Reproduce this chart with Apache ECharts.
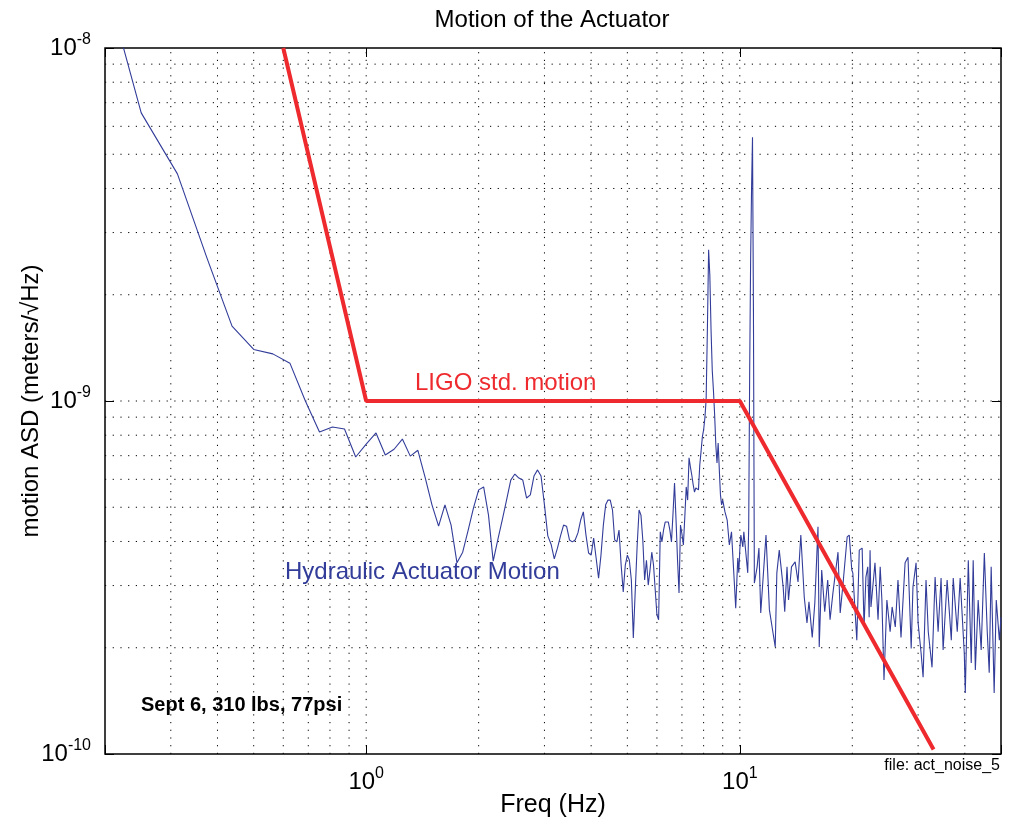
<!DOCTYPE html>
<html>
<head>
<meta charset="utf-8">
<script src="https://cdn.jsdelivr.net/npm/echarts@6/dist/echarts.min.js"></script>
<style>
  html, body { margin: 0; padding: 0; background: #fff; }
  #chart { width: 1015px; height: 826px; }
</style>
</head>
<body>
<div id="chart"></div>
<script>
// frequency in Hz, ASD in units of 1e-10 m/sqrt(Hz)
var motionPts = [
  [0.1875, 200], [0.25, 65.5], [0.3125, 44.0], [0.375, 25.4], [0.4375, 16.3], [0.5, 14.0],
  [0.5625, 13.6], [0.625, 12.8], [0.6875, 10.0], [0.75, 8.17], [0.8125, 8.44], [0.875, 8.33],
  [0.9375, 6.94], [1.0, 7.55], [1.0625, 8.12], [1.125, 7.03], [1.1875, 7.30], [1.25, 7.80],
  [1.3125, 6.98], [1.375, 7.25], [1.4375, 6.09], [1.5, 5.08], [1.5625, 4.42], [1.625, 5.08],
  [1.6875, 4.45], [1.75, 3.48], [1.8125, 3.73], [1.875, 4.31], [1.9375, 4.98], [2.0, 5.60],
  [2.0625, 5.71], [2.125, 4.75], [2.1875, 3.52], [2.25, 4.04], [2.3125, 4.60], [2.375, 5.24],
  [2.4375, 5.97], [2.5, 6.21], [2.5625, 6.05], [2.625, 5.97], [2.6875, 5.31], [2.75, 5.42],
  [2.8125, 6.13], [2.875, 6.38], [2.9375, 6.13], [3.0, 5.08], [3.0625, 4.15], [3.125, 3.93],
  [3.1875, 3.57], [3.25, 3.83], [3.3125, 4.15], [3.375, 4.45], [3.4375, 4.42], [3.5, 4.04],
  [3.5625, 3.99], [3.625, 4.04], [3.6875, 4.23], [3.75, 4.60], [3.8125, 4.85], [3.875, 4.17],
  [3.9375, 3.71], [4.0, 3.66], [4.0625, 4.09], [4.125, 3.59], [4.1875, 3.15], [4.25, 3.66],
  [4.3125, 4.45], [4.375, 5.08], [4.4375, 5.24], [4.5, 5.24], [4.5625, 4.91], [4.625, 4.04],
  [4.6875, 3.99], [4.75, 4.31], [4.8125, 3.43], [4.875, 2.88], [4.9375, 3.43], [5.0, 3.66],
  [5.0625, 3.54], [5.125, 3.11], [5.1875, 2.13], [5.25, 2.91], [5.3125, 3.91], [5.375, 4.91],
  [5.4375, 4.75], [5.5, 4.04], [5.5625, 3.11], [5.625, 3.54], [5.6875, 3.01], [5.75, 3.32],
  [5.8125, 3.73], [5.875, 3.43], [5.9375, 2.91], [6.0, 2.48], [6.0625, 2.40], [6.125, 4.26],
  [6.1875, 3.99], [6.25, 4.31], [6.3125, 4.54], [6.375, 4.50], [6.4375, 4.54], [6.5, 4.30],
  [6.5625, 3.99], [6.625, 4.80], [6.6875, 5.86], [6.75, 4.60], [6.8125, 3.54], [6.875, 2.86],
  [6.9375, 4.45], [7.0, 4.20], [7.0625, 3.91], [7.125, 4.70], [7.1875, 5.71], [7.25, 5.24],
  [7.3125, 6.90], [7.375, 6.50], [7.4375, 6.17], [7.5, 5.80], [7.5625, 5.52], [7.625, 5.67],
  [7.6875, 5.60], [7.75, 5.60], [7.8125, 6.59], [7.875, 7.20], [7.9375, 7.91], [8.0, 8.28],
  [8.0625, 8.95], [8.125, 10.07], [8.1875, 15.9], [8.25, 26.8], [8.3125, 22.7], [8.375, 15.9],
  [8.4375, 12.2], [8.5, 10.7], [8.5625, 9.13], [8.625, 7.50], [8.6875, 6.67], [8.75, 7.60],
  [8.8125, 6.38], [8.875, 5.42], [8.9375, 5.08], [9.0, 5.24], [9.125, 4.85], [9.25, 4.60],
  [9.375, 3.91], [9.5, 4.26], [9.625, 3.32], [9.75, 2.59], [9.875, 3.59], [9.9375, 3.26],
  [10.0, 3.80], [10.0625, 4.17], [10.1875, 3.86], [10.25, 4.26], [10.5, 3.26], [10.5625, 4.40],
  [10.625, 12], [10.6875, 25], [10.75, 40], [10.8125, 55.9], [10.875, 18], [10.9375, 3.05],
  [11.125, 3.39], [11.25, 3.83], [11.375, 2.51], [11.75, 4.17], [12.0, 2.56], [12.4375, 2.01],
  [12.5625, 3.26], [12.75, 3.78], [13.0625, 2.97], [13.1875, 2.53], [13.375, 3.39], [13.5, 2.73],
  [13.75, 3.39], [14.0625, 3.50], [14.3125, 3.07], [14.5625, 4.17], [14.875, 2.78], [15.125, 2.35],
  [15.3125, 2.70], [15.625, 2.14], [15.875, 2.68], [16.1875, 4.40], [16.3125, 2.01], [16.5625, 3.32],
  [16.875, 2.53], [17.1875, 3.11], [17.4375, 2.40], [17.75, 2.86], [18.3125, 3.73], [18.5625, 2.51],
  [18.875, 3.01], [19.375, 4.12], [19.625, 4.17], [19.9375, 3.32], [20.0625, 3.26], [20.5625, 2.10],
  [20.875, 3.78], [21.25, 3.83], [21.5, 2.29], [21.75, 3.17], [22.0, 3.39], [22.1875, 2.44],
  [22.3125, 3.78], [22.4375, 2.61], [22.5625, 2.78], [23.0, 3.48], [23.4375, 2.40], [23.75, 3.39],
  [24.0, 2.73], [24.3125, 1.62], [24.75, 2.73], [25.25, 2.22], [25.5625, 2.61], [26.0625, 2.29],
  [26.5, 3.11], [27.0, 2.14], [27.6875, 3.48], [28.1875, 3.61], [28.75, 1.99], [29.0625, 2.97],
  [29.625, 3.48], [30.0, 2.35], [30.5625, 1.93], [30.9375, 1.65], [31.5, 3.11], [31.9375, 2.22],
  [32.6875, 1.76], [33.3125, 3.17], [33.9375, 2.22], [34.5625, 3.15], [35.0, 1.97], [35.875, 3.11],
  [36.8125, 2.10], [37.25, 3.15], [38.1875, 2.22], [38.875, 3.15], [39.875, 1.93], [40.125, 1.49],
  [40.875, 3.54], [41.625, 1.81], [42.125, 3.54], [42.6875, 1.73], [43.4375, 2.73], [44.25, 1.97],
  [45.125, 3.71], [45.9375, 2.22], [46.5, 1.70], [47.0625, 3.39], [47.9375, 1.49], [48.5625, 2.73],
  [49.5, 2.10], [50.0, 2.44]
]

// LIGO standard motion requirement
var ligoFreq = [0.6, 1, 10, 33]
var ligoAsd = [1e-8, 1e-9, 1e-9, 1.03e-10]

// grid line positions
var gridFreq = [0.3, 0.4, 0.5, 0.6, 0.7, 0.8, 0.9, 1, 2, 3, 4, 5, 6, 7, 8, 9, 10, 20, 30, 40]
var gridAsd = [2e-10, 3e-10, 4e-10, 5e-10, 6e-10, 7e-10, 8e-10, 9e-10, 1e-9,
  2e-9, 3e-9, 4e-9, 5e-9, 6e-9, 7e-9, 8e-9, 9e-9]
var xMin = 0.2, xMax = 50, yMin = 1e-10, yMax = 1e-8

var FONT = 'Liberation Sans, Arial, Helvetica, sans-serif'

function powLabel(v) {
  var e = Math.log10(v)
  var r = Math.round(e)
  if (Math.abs(e - r) > 1e-6) return ''
  return '{b|10}{s|' + r + '}'
}

var labelRich = {
  b: { fontSize: 24, fontFamily: FONT, color: '#000', lineHeight: 32 },
  s: { fontSize: 16, fontFamily: FONT, color: '#000', lineHeight: 16, verticalAlign: 'top' }
}

var chart = echarts.init(document.getElementById('chart'))

var dotted = { color: '#000', width: 1, type: [1.2, 6.5] }
var gridSeries = []
gridFreq.forEach(function (f) {
  gridSeries.push({
    type: 'line', silent: true, showSymbol: false, z: 1,
    lineStyle: dotted, data: [[f, yMin], [f, yMax]]
  })
})
gridAsd.forEach(function (a) {
  gridSeries.push({
    type: 'line', silent: true, showSymbol: false, z: 1,
    lineStyle: dotted, data: [[xMin, a], [xMax, a]]
  })
})

var tickAxis = {
  axisLine: { show: false },
  axisTick: { show: true, inside: true, length: 9, lineStyle: { color: '#000', width: 1 } },
  splitLine: { show: false }
}

chart.setOption({
  animation: false,
  backgroundColor: '#fff',
  grid: {
    left: 105, right: 14, top: 48, bottom: 72,
    outerBoundsMode: 'none', containLabel: false,
    show: true, borderColor: '#000', borderWidth: 1.5, backgroundColor: 'transparent'
  },
  graphic: [
    { type: 'text', x: 552, y: 20, style: { text: 'Motion of the Actuator', font: '24px ' + FONT, fill: '#000', textAlign: 'center', textVerticalAlign: 'middle' } },
    { type: 'text', x: 415, y: 383, z: 10, style: { text: 'LIGO std. motion', font: '24px ' + FONT, fill: '#ee2a2e', textAlign: 'left', textVerticalAlign: 'middle' } },
    { type: 'text', x: 285, y: 572, z: 10, style: { text: 'Hydraulic Actuator Motion', font: '24px ' + FONT, fill: '#323c99', textAlign: 'left', textVerticalAlign: 'middle' } },
    { type: 'text', x: 141, y: 705, z: 10, style: { text: 'Sept 6, 310 lbs, 77psi', font: 'bold 20px ' + FONT, fill: '#000', textAlign: 'left', textVerticalAlign: 'middle' } },
    { type: 'text', x: 1000, y: 766, z: 10, style: { text: 'file: act_noise_5', font: '16px ' + FONT, fill: '#000', textAlign: 'right', textVerticalAlign: 'middle' } }
  ],
  xAxis: [Object.assign({
    type: 'log', logBase: 10, min: xMin, max: xMax,
    name: 'Freq (Hz)', nameLocation: 'middle', nameGap: 39, nameMoveOverlap: false,
    nameTextStyle: { fontSize: 25, fontFamily: FONT, color: '#000' },
    axisLabel: { formatter: powLabel, rich: labelRich, margin: 12 }
  }, tickAxis), Object.assign({
    type: 'log', logBase: 10, min: xMin, max: xMax, position: 'top',
    axisLabel: { show: false }
  }, tickAxis)],
  yAxis: [Object.assign({
    type: 'log', logBase: 10, min: yMin, max: yMax,
    name: 'motion ASD (meters/\u221AHz)', nameLocation: 'middle', nameGap: 62, nameMoveOverlap: false,
    nameTextStyle: { fontSize: 24, fontFamily: FONT, color: '#000' },
    axisLabel: { formatter: powLabel, rich: labelRich, margin: 14 }
  }, tickAxis), Object.assign({
    type: 'log', logBase: 10, min: yMin, max: yMax, position: 'right',
    axisLabel: { show: false }
  }, tickAxis)],
  series: gridSeries.concat([{
    name: 'Hydraulic Actuator Motion',
    type: 'line',
    data: motionPts.map(function (p) { return [p[0], p[1] * 1e-10] }),
    showSymbol: false,
    clip: true,
    z: 3,
    lineStyle: { color: '#323c99', width: 1.1 }
  }, {
    name: 'LIGO std. motion',
    type: 'line',
    data: ligoFreq.map(function (f, i) { return [f, ligoAsd[i]] }),
    showSymbol: false,
    clip: true,
    z: 4,
    lineStyle: { color: '#ee2a2e', width: 4 }
  }])
})
</script>
</body>
</html>
